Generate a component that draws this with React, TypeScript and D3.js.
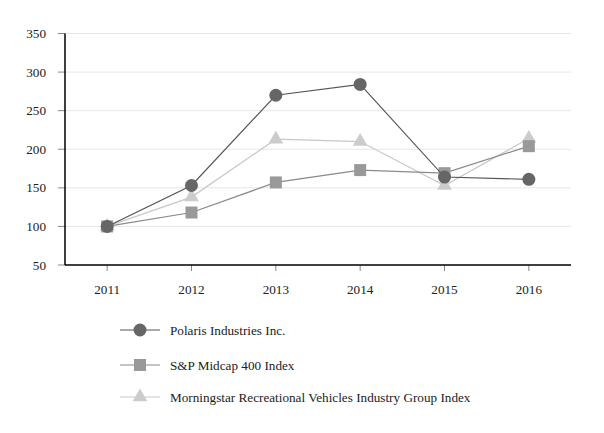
import React from "react";
import * as d3 from "d3";

const years = ["2011", "2012", "2013", "2014", "2015", "2016"];
const polaris = [100, 153, 270, 284, 164, 161];
const spMidcap = [100, 118, 157, 173, 169, 204];
const morningstar = [100, 138, 213, 210, 153, 214];
const yTicks = [50, 100, 150, 200, 250, 300, 350];

const seriesNames = [
  "Polaris Industries Inc.",
  "S&P Midcap 400 Index",
  "Morningstar Recreational Vehicles Industry Group Index",
];

const W = 604, H = 433;
const left = 65, right = 571, top = 33.5, bottom = 265;
const font = "Liberation Serif, Times New Roman, serif";

export default function App() {
  const x = d3.scaleBand<string>().domain(years).range([left, right]);
  const cx = (d: string) => (x(d) as number) + x.bandwidth() / 2;
  const y = d3.scaleLinear().domain([50, 350]).range([bottom, top]);

  const styles = [
    { data: polaris, line: "#555555", fill: "#666666", shape: "circle" },
    { data: spMidcap, line: "#8a8a8a", fill: "#999999", shape: "square" },
    { data: morningstar, line: "#c8c8c8", fill: "#cccccc", shape: "triangle" },
  ];

  const lineGen = d3
    .line<number>()
    .x((_, i) => cx(years[i]))
    .y((v) => y(v));

  const marker = (shape: string, px: number, py: number, fill: string, key: string) => {
    if (shape === "circle") return <circle key={key} cx={px} cy={py} r={6.5} fill={fill} />;
    if (shape === "square")
      return <rect key={key} x={px - 6} y={py - 6} width={12} height={12} fill={fill} />;
    const p = d3.symbol().type(d3.symbolTriangle).size(95)();
    return <path key={key} d={p as string} transform={`translate(${px},${py})`} fill={fill} />;
  };

  const legendY = [330, 365, 397];
  const ts = { fontFamily: font, fontSize: 13.2, fill: "#222" } as React.CSSProperties;

  return (
    <svg width={W} height={H} style={{ position: "absolute", left: 0, top: 0, background: "#fff" }}>
      {yTicks.map((t) => (
        <g key={t}>
          {t !== 50 && <line x1={left} x2={right} y1={y(t)} y2={y(t)} stroke="#e6e6e6" strokeWidth={1} />}
          <line x1={left - 7} x2={left} y1={y(t)} y2={y(t)} stroke="#888" strokeWidth={1} />
          <text x={left - 19} y={y(t)} dy="0.35em" textAnchor="end" style={ts}>
            {t}
          </text>
        </g>
      ))}
      {years.map((yr) => (
        <g key={yr}>
          <line x1={cx(yr)} x2={cx(yr)} y1={bottom} y2={bottom + 6} stroke="#888" strokeWidth={1} />
          <text x={cx(yr)} y={bottom + 29} textAnchor="middle" style={ts}>
            {yr}
          </text>
        </g>
      ))}
      <line x1={left} x2={left} y1={top} y2={bottom} stroke="#000" strokeWidth={1.5} />
      <line x1={left} x2={right} y1={bottom} y2={bottom} stroke="#000" strokeWidth={1.5} />
      {styles
        .slice()
        .reverse()
        .map((s, si) => (
          <g key={si}>
            <path d={lineGen(s.data) as string} fill="none" stroke={s.line} strokeWidth={1.2} />
            {s.data.map((v, i) => marker(s.shape, cx(years[i]), y(v), s.fill, `${si}-${i}`))}
          </g>
        ))}
      {styles.map((s, i) => (
        <g key={"lg" + i}>
          <line x1={120} x2={160} y1={legendY[i]} y2={legendY[i]} stroke={s.line} strokeWidth={1.2} />
          {marker(s.shape, 140, legendY[i], s.fill, "lm" + i)}
          <text x={170} y={legendY[i]} dy="0.35em" style={ts}>
            {seriesNames[i]}
          </text>
        </g>
      ))}
    </svg>
  );
}
